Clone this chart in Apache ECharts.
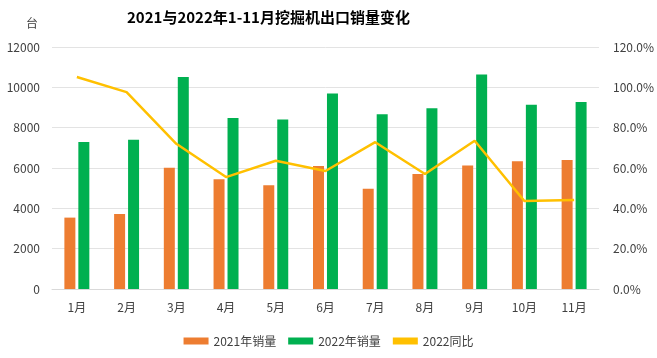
<!DOCTYPE html>
<html><head><meta charset="utf-8">
<script src="https://cdn.jsdelivr.net/npm/echarts@6/dist/echarts.min.js"></script>
<style>html,body{margin:0;padding:0;background:#fff}#c{width:657px;height:358px}</style>
</head><body><div id="c"></div>
<script>
const categories = ['1月','2月','3月','4月','5月','6月','7月','8月','9月','10月','11月'];
const sales2021 = [3540, 3720, 6015, 5440, 5140, 6100, 4975, 5700, 6130, 6330, 6395];
const sales2022 = [7290, 7400, 10510, 8480, 8410, 9700, 8660, 8960, 10640, 9140, 9270];
const yoy2022 = [105.1, 97.6, 72.0, 55.5, 63.6, 58.5, 72.8, 57.0, 73.5, 43.6, 44.1];
const leftTicks = [0, 2000, 4000, 6000, 8000, 10000, 12000];
const rightTicks = [0, 20, 40, 60, 80, 100, 120];

const font = '"Noto Sans CJK SC", "Noto Sans", sans-serif';
const chart = echarts.init(document.getElementById('c'));
chart.setOption({
  animation: false,
  textStyle: { fontFamily: font },
  title: {
    text: '2021与2022年1-11月挖掘机出口销量变化',
    left: 122, top: 5,
    textStyle: { fontSize: 15, fontWeight: 'bold', color: '#000', fontFamily: font }
  },
  legend: {
    bottom: 6, left: 'center', itemWidth: 25, itemHeight: 7, itemGap: 12,
    textStyle: { fontSize: 12, color: '#404040', fontFamily: font },
    data: [
      { name: '2021年销量', icon: 'rect' },
      { name: '2022年销量', icon: 'rect' },
      { name: '2022同比', icon: 'rect', itemStyle: { color: '#FFC000' } }
    ]
  },
  grid: { left: 52, right: 57, top: 47, bottom: 69 },
  xAxis: {
    type: 'category', data: categories,
    axisLine: { lineStyle: { color: '#d9d9d9' } },
    axisTick: { show: false },
    axisLabel: { color: '#404040', fontSize: 12, margin: 12 }
  },
  yAxis: [
    {
      type: 'value', min: leftTicks[0], max: leftTicks[leftTicks.length - 1], interval: 2000,
      name: '台', nameLocation: 'end', nameGap: 18,
      nameTextStyle: { color: '#404040', fontSize: 12, align: 'right', padding: [0, 14, 0, 0] },
      axisLabel: { color: '#404040', fontSize: 12, margin: 12, formatter: v => String(v) },
      axisLine: { show: false }, axisTick: { show: false },
      splitLine: { lineStyle: { color: '#e3e3e3' } }
    },
    {
      type: 'value', min: rightTicks[0], max: rightTicks[rightTicks.length - 1], interval: 20,
      axisLabel: { color: '#404040', fontSize: 12, margin: 14, formatter: v => v.toFixed(1) + '%' },
      axisLine: { show: false }, axisTick: { show: false },
      splitLine: { show: false }
    }
  ],
  series: [
    { name: '2021年销量', type: 'bar', data: sales2021, barWidth: 11, barGap: '27%',
      itemStyle: { color: '#ED7D31' } },
    { name: '2022年销量', type: 'bar', data: sales2022, barWidth: 11,
      itemStyle: { color: '#00B050' } },
    { name: '2022同比', type: 'line', yAxisIndex: 1, data: yoy2022, symbol: 'none',
      lineStyle: { color: '#FFC000', width: 2.5 }, itemStyle: { color: '#FFC000' } }
  ]
});
</script>
</body></html>
